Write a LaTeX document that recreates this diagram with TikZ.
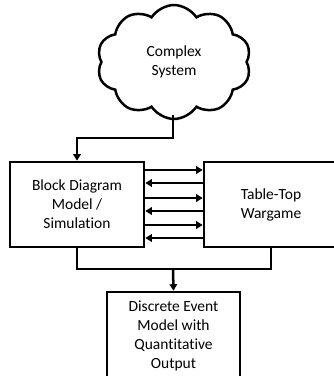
\documentclass[tikz,border=0pt]{standalone}
\usepackage{fontspec}
\setmainfont[Ligatures=NoCommon]{Carlito}
\usetikzlibrary{shapes.symbols,arrows.meta}
\begin{document}
\begin{tikzpicture}[x=1pt,y=-1pt,
  box/.style={draw, line width=2.6pt, minimum width=134pt, minimum height=85pt, align=center, font=\fontsize{15.5}{19}\selectfont, inner sep=0pt},
  conn/.style={line width=2.5pt, -{Triangle[length=6.5pt,width=7.5pt]}},
  line/.style={line width=2.5pt},
  ]
\useasboundingbox (0,0) rectangle (334,376);
\clip (0,0) rectangle (334,376);
\node[cloud, draw, line width=2.5pt, cloud puffs=10, cloud puff arc=115, aspect=1.4,
  minimum width=154pt, minimum height=114pt, align=center, font=\fontsize{15.5}{19}\selectfont] (C) at (174,62) {Complex\\System};
\node[box] (L) at (77,204.5) {Block Diagram\\Model /\\Simulation};
\node[box] (R) at (271,204.5) {Table-Top\\Wargame};
\node[box, minimum width=133pt, minimum height=88pt] (B) at (173.5,336) {Discrete Event\\Model with\\Quantitative\\Output};
\coordinate (cb) at (173,115);
\draw[conn] (cb) |- (L.north |- 0,138) -- (L.north);
\foreach \y in {170,198,225} {
  \draw[conn] (L.east |- 0,\y) -- (R.west |- 0,\y);
}
\foreach \y in {183,211,238} {
  \draw[conn] (R.west |- 0,\y) -- (L.east |- 0,\y);
}
\coordinate (j) at (173,269);
\draw[line] (L.south) |- (j) -| (R.south);
\draw[conn] (j) -- (B.north);
\end{tikzpicture}
\end{document}
